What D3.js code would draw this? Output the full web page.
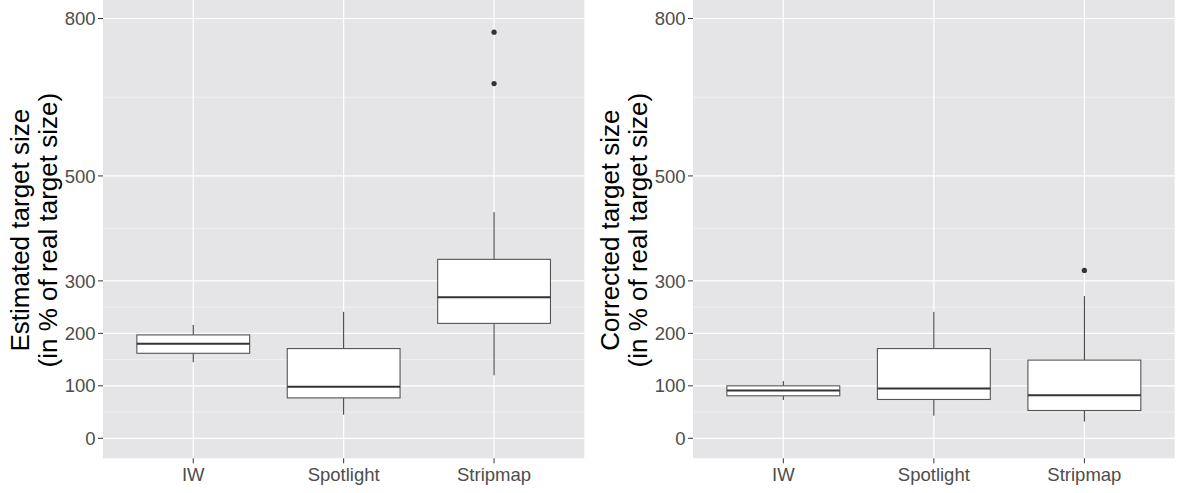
<!DOCTYPE html>
<html>
<head>
<meta charset="utf-8">
<script src="https://cdn.jsdelivr.net/npm/d3@7"></script>
<style>
  html, body { margin: 0; padding: 0; background: #ffffff; }
  svg { display: block; font-family: "Liberation Sans", Arial, sans-serif; }
</style>
</head>
<body>
<svg id="chart" width="1181" height="493"></svg>
<script>
// ---- data ----
const categories = ["IW", "Spotlight", "Stripmap"];
const yBreaks = [0, 100, 200, 300, 500, 800];
const yMinorBreaks = [50, 150, 250, 400, 650];

// Estimated target size (left panel)
const estLowerWhisker = [145, 45, 120];
const estQ1 = [162, 77, 219];
const estMedian = [180, 98, 269];
const estQ3 = [197, 171, 341];
const estUpperWhisker = [216, 241, 431];
const estOutliers = [[], [], [676, 774]];

// Corrected target size (right panel)
const corLowerWhisker = [73, 43, 32];
const corQ1 = [81, 74, 53];
const corMedian = [91, 95, 82];
const corQ3 = [100, 171, 149];
const corUpperWhisker = [109, 241, 271];
const corOutliers = [[], [], [320]];

const panels = [
  { titleLines: ["Estimated target size", "(in % of real target size)"],
    lo: estLowerWhisker, q1: estQ1, med: estMedian, q3: estQ3, hi: estUpperWhisker, out: estOutliers,
    left: 103, right: 584.3, offset: 0 },
  { titleLines: ["Corrected target size", "(in % of real target size)"],
    lo: corLowerWhisker, q1: corQ1, med: corMedian, q3: corQ3, hi: corUpperWhisker, out: corOutliers,
    left: 693, right: 1174.7, offset: 590 }
];

const svg = d3.select("#chart");
const panelTop = -2, panelBottom = 458.3;
const y = d3.scaleLinear().domain([0, 800]).range([438.3, 18.5]);

panels.forEach(p => {
  const g = svg.append("g");
  const x = d3.scalePoint().domain(categories).range([p.left, p.right]).padding(0.6);
  const step = x.step();
  const boxW = step * 0.75;

  // panel background
  g.append("rect")
    .attr("x", p.left).attr("y", panelTop)
    .attr("width", p.right - p.left).attr("height", panelBottom - panelTop)
    .attr("fill", "#e5e5e7");

  // minor gridlines
  g.selectAll(".minor").data(yMinorBreaks).join("line")
    .attr("x1", p.left).attr("x2", p.right)
    .attr("y1", d => y(d)).attr("y2", d => y(d))
    .attr("stroke", "#f5f5f6").attr("stroke-width", 0.7);

  // major gridlines
  g.selectAll(".major").data(yBreaks).join("line")
    .attr("x1", p.left).attr("x2", p.right)
    .attr("y1", d => y(d)).attr("y2", d => y(d))
    .attr("stroke", "#ffffff").attr("stroke-width", 1.2);

  g.selectAll(".vmajor").data(categories).join("line")
    .attr("x1", d => x(d)).attr("x2", d => x(d))
    .attr("y1", panelTop).attr("y2", panelBottom)
    .attr("stroke", "#ffffff").attr("stroke-width", 1.2);

  // boxes
  categories.forEach((c, i) => {
    const cx = x(c);
    // whiskers
    g.append("line").attr("x1", cx).attr("x2", cx)
      .attr("y1", y(p.q3[i])).attr("y2", y(p.hi[i]))
      .attr("stroke", "#333333").attr("stroke-width", 1);
    g.append("line").attr("x1", cx).attr("x2", cx)
      .attr("y1", y(p.q1[i])).attr("y2", y(p.lo[i]))
      .attr("stroke", "#333333").attr("stroke-width", 1);
    // box
    g.append("rect")
      .attr("x", cx - boxW / 2).attr("width", boxW)
      .attr("y", y(p.q3[i])).attr("height", y(p.q1[i]) - y(p.q3[i]))
      .attr("fill", "#ffffff").attr("stroke", "#555555").attr("stroke-width", 1.1);
    // median
    g.append("line")
      .attr("x1", cx - boxW / 2).attr("x2", cx + boxW / 2)
      .attr("y1", y(p.med[i])).attr("y2", y(p.med[i]))
      .attr("stroke", "#333333").attr("stroke-width", 2);
    // outliers
    g.selectAll(null).data(p.out[i]).join("circle")
      .attr("cx", cx).attr("cy", d => y(d)).attr("r", 2.6)
      .attr("fill", "#333333");
  });

  // y axis ticks & labels
  const yAxis = g.append("g");
  yAxis.selectAll("line").data(yBreaks).join("line")
    .attr("x1", p.left - 5).attr("x2", p.left)
    .attr("y1", d => y(d)).attr("y2", d => y(d))
    .attr("stroke", "#333333").attr("stroke-width", 1);
  yAxis.selectAll("text").data(yBreaks).join("text")
    .attr("x", p.left - 7.5).attr("y", d => y(d))
    .attr("dy", "0.36em")
    .attr("text-anchor", "end")
    .attr("fill", "#4d4d4d").attr("font-size", "18.5px")
    .text(d => d);

  // x axis ticks & labels
  const xAxis = g.append("g");
  xAxis.selectAll("line").data(categories).join("line")
    .attr("x1", d => x(d)).attr("x2", d => x(d))
    .attr("y1", panelBottom).attr("y2", panelBottom + 5)
    .attr("stroke", "#333333").attr("stroke-width", 1);
  xAxis.selectAll("text").data(categories).join("text")
    .attr("x", d => x(d)).attr("y", 481)
    .attr("text-anchor", "middle")
    .attr("fill", "#4d4d4d").attr("font-size", "18.5px")
    .text(d => d);

  // y axis title (two lines)
  const cy = (panelTop + panelBottom) / 2 + 2;
  const baselines = [28.5, 57];
  p.titleLines.forEach((t, k) => {
    g.append("text")
      .attr("transform", `translate(${p.offset + baselines[k]},${cy}) rotate(-90)`)
      .attr("text-anchor", "middle")
      .attr("fill", "#000000").attr("font-size", "26px")
      .text(t);
  });
});
</script>
</body>
</html>
